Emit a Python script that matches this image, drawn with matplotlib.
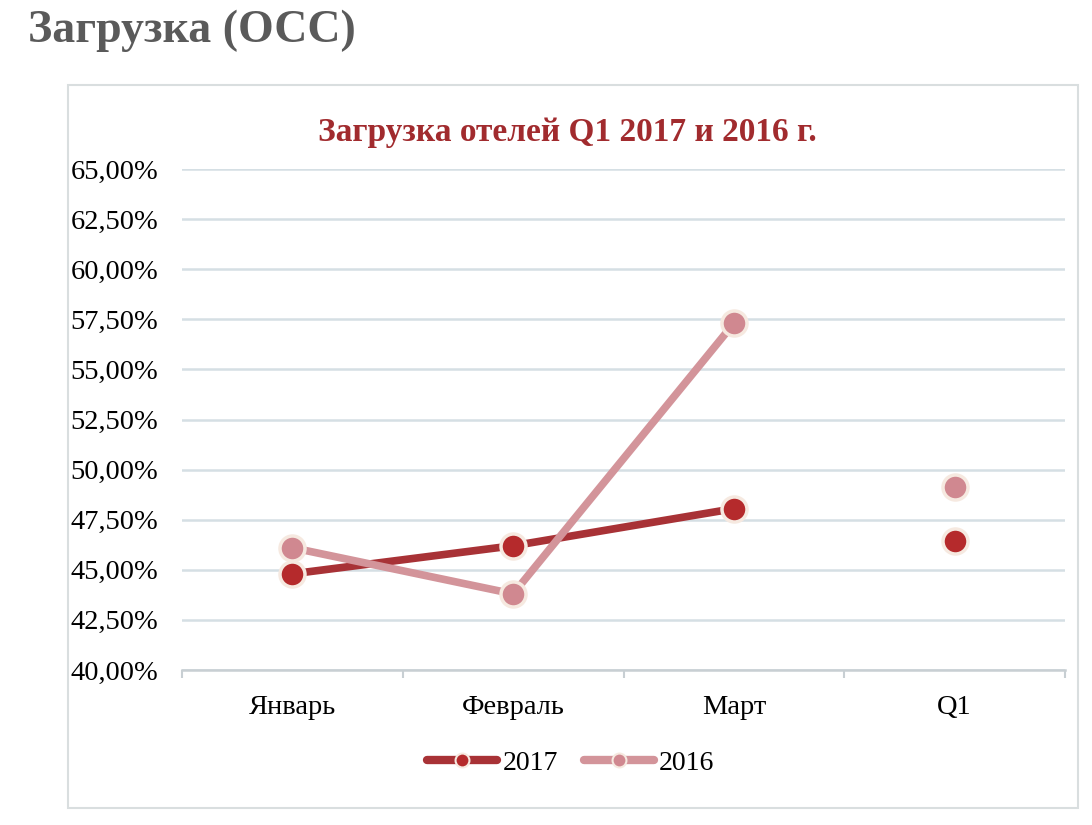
import matplotlib
matplotlib.use("Agg")
import matplotlib.pyplot as plt
from matplotlib.patches import Rectangle
from matplotlib.ticker import FuncFormatter
import numpy as np

months = ['Январь', 'Февраль', 'Март', 'Q1']
occ_2017 = [44.8, 46.2, 48.05, 46.45]
occ_2016 = [46.1, 43.8, 57.3, 49.15]

plt.rcParams['font.family'] = ['Liberation Serif', 'DejaVu Serif']

fig = plt.figure(figsize=(10.92, 8.25), dpi=100)
fig.patch.set_facecolor('white')

# outer chart frame
fig.patches.append(Rectangle((68 / 1092, 1 - 808 / 825), 1010 / 1092, 723 / 825,
                             transform=fig.transFigure, facecolor='none',
                             edgecolor='#D9DEDF', linewidth=1.5))

fig.text(28 / 1092, 1 - 31 / 825, 'Загрузка (ОСС)', fontsize=33, fontweight='bold',
         color='#5A5A5A', va='center', ha='left')

ax = fig.add_axes([182 / 1092, 1 - 670 / 825, (1065 - 182) / 1092, (670 - 169) / 825])

x = np.arange(len(months)) + 0.5
c17 = '#A83236'
c16 = '#D3949A'
m17 = '#B52A2C'
m16 = '#D08890'
edge = '#F6E9E0'

ax.plot(x[:3], occ_2017[:3], color=c17, lw=5.5, solid_capstyle='round', zorder=3)
ax.plot(x[:3], occ_2016[:3], color=c16, lw=5.5, solid_capstyle='round', zorder=3)
ax.plot(x, occ_2017, ls='none', marker='o', ms=18, mfc=m17, mec=edge, mew=2.5, zorder=4)
ax.plot(x, occ_2016, ls='none', marker='o', ms=18, mfc=m16, mec=edge, mew=2.5, zorder=4)

ax.set_xlim(0, 4)
ax.set_ylim(40, 65)
ax.set_yticks(np.arange(40, 65.01, 2.5))
ax.yaxis.set_major_formatter(FuncFormatter(lambda v, p: ('%.2f%%' % v).replace('.', ',')))
ax.set_xticks(x)
ax.set_xticklabels(months)
ax.set_xticks(np.arange(0, 4.01, 1), minor=True)
ax.tick_params(axis='x', which='major', length=0, pad=18, labelsize=20.5)
ax.tick_params(axis='x', which='minor', length=6, color='#C8CFD3', width=1.5)
ax.tick_params(axis='y', length=0, pad=17, labelsize=20.5)
ax.grid(axis='y', color='#D5DFE4', lw=1.8)
ax.set_axisbelow(True)
for s in ['top', 'right', 'left']:
    ax.spines[s].set_visible(False)
ax.spines['bottom'].set_color('#C8CFD3')
ax.spines['bottom'].set_linewidth(1.8)

fig.text(567 / 1092, 1 - 132 / 825, 'Загрузка отелей Q1 2017 и 2016 г.', fontsize=24,
         fontweight='bold', color='#A12B2E', ha='center', va='center')

# legend
h17, = ax.plot([], [], color=c17, lw=6, marker='o', ms=10, mfc=m17, mec=edge, mew=1.5,
               solid_capstyle='round')
h16, = ax.plot([], [], color=c16, lw=6, marker='o', ms=10, mfc=m16, mec=edge, mew=1.5,
               solid_capstyle='round')
fig.legend([h17, h16], ['2017', '2016'], loc='center', bbox_to_anchor=(571 / 1092, 1 - 763 / 825),
           ncol=2, frameon=False, fontsize=20, handlelength=2.5, handletextpad=0.2,
           columnspacing=0.95)

fig.savefig('out.png', dpi=100)
